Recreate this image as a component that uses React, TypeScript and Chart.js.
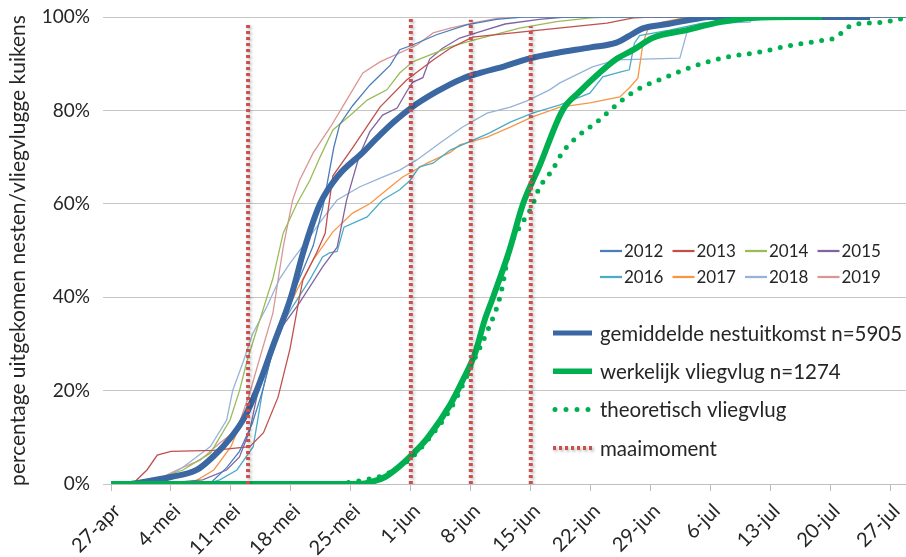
import React, { useEffect, useRef } from "react";
import { Chart, registerables } from "chart.js";

Chart.register(...registerables);

const FONT = "Lato, 'Open Sans', sans-serif";
const TEXT = "#262626";

// x axis: days after 27 April
const tickDays = [0, 7, 14, 21, 28, 35, 42, 49, 56, 63, 70, 77, 84, 91];
const tickLabels = ["27-apr", "4-mei", "11-mei", "18-mei", "25-mei", "1-jun", "8-jun", "15-jun", "22-jun", "29-jun", "6-jul", "13-jul", "20-jul", "27-jul"];
const yTicks = [0, 20, 40, 60, 80, 100];

const yearLabels = ["2012", "2013", "2014", "2015", "2016", "2017", "2018", "2019"];
const yearColors = ["#4A7EBB", "#C0504D", "#9BBB59", "#8064A2", "#4BACC6", "#F79646", "#95B3D7", "#D99694"];

const days2012 = [0, 11.5, 13.5, 15, 16.5, 17.7, 19.5, 22, 23.6, 24.7, 25.2, 26, 26.7, 28.2, 30.2, 32.6, 33.7, 35.2, 38, 41.5, 45, 48, 92.8];
const pct2012 = [0, 0, 3.5, 7, 13, 20, 33, 44, 51, 59, 64, 72, 77, 81, 85.4, 89.7, 93, 94, 96.2, 98.3, 99.5, 100, 100];

const days2013 = [0, 2.5, 4.2, 5.4, 7, 12, 16.2, 17.8, 19.5, 20.9, 22, 22.4, 24, 25, 25.3, 25.9, 28.2, 31.4, 34.5, 37.6, 39.6, 42.2, 50, 57.9, 61, 63, 92.8];
const pct2013 = [0, 0, 3, 6.2, 7, 7.2, 8, 11, 18.6, 29, 40, 43.7, 49.5, 53.7, 58, 66, 72, 80.7, 86.5, 90.8, 93.3, 95.7, 97.2, 98.7, 99.8, 100, 100];

const days2014 = [0, 3, 5.7, 8.4, 11.6, 13.9, 15, 15.9, 18.2, 18.9, 20.1, 21.7, 23.2, 24.4, 25.9, 28.2, 29.9, 32.2, 33.7, 35.2, 39.6, 42.2, 47.7, 52, 56, 58, 92.8];
const pct2014 = [0, 0, 1.3, 3, 6.6, 13.7, 20, 26.5, 40, 44, 53.7, 60, 65, 70, 75.8, 79.4, 82.2, 84.4, 88, 90.4, 93.6, 95, 97.6, 99, 99.8, 100, 100];

const days2015 = [0, 6, 7.7, 10.7, 13.5, 15, 16.2, 17.4, 18.2, 19.7, 22, 24.7, 26.4, 27.5, 29, 30.2, 31.7, 33.4, 34.5, 35.2, 36.4, 37.2, 38.7, 40.7, 43, 46, 50, 53, 92.8];
const pct2015 = [0, 0, 0.4, 0.9, 3, 5.8, 11.5, 22, 26.5, 33, 38.8, 46.5, 50.7, 60.8, 70.4, 75.4, 79, 80.5, 84, 86, 87, 91, 93.3, 95.5, 96.8, 98.5, 99.5, 100, 100];

const days2016 = [0, 11, 12.7, 14.7, 16.6, 17.7, 18.2, 19.4, 21.2, 23.2, 24.7, 25.5, 26.4, 27.2, 29.9, 31.7, 33.7, 34.9, 36, 37.6, 39.6, 44.2, 46.6, 49.2, 52.4, 55.9, 57.4, 59.4, 60.5, 61.1, 61.7, 65.2, 69, 74.2, 75, 92.8];
const pct2016 = [0, 0, 0.9, 3, 8, 20, 23.8, 32.3, 38, 43.7, 48.6, 49.5, 49.8, 55, 57.2, 60.8, 63, 65, 67.9, 68.7, 71.5, 75.2, 77.5, 79.4, 81.2, 83.7, 87.2, 88.2, 88.7, 94.4, 96, 97.2, 98.7, 99.4, 100, 100];

const days2017 = [0, 8, 10, 12, 14, 15.9, 17.2, 18.6, 19.7, 21.7, 23.6, 25.9, 28.2, 30.2, 32.2, 34, 36.9, 39.6, 40.7, 43.9, 46.6, 49.2, 52.4, 55.9, 59.4, 60.6, 61.5, 62.1, 62.7, 64.4, 66.8, 68, 92.8];
const pct2017 = [0, 0, 0.8, 3, 8, 16.5, 22, 28, 33.6, 41.5, 48, 54, 58, 60, 63, 65.7, 68.7, 71, 72.6, 74.3, 76.4, 78.6, 80.7, 81.6, 82.9, 85, 86.9, 94.4, 97.6, 98.9, 99.8, 100, 100];

const days2018 = [0, 4, 6, 8.4, 11.6, 13.5, 14.2, 15.4, 16.5, 18.2, 19.7, 20.9, 23.2, 24.4, 25.2, 26.4, 29, 31.7, 33.7, 35.7, 38.4, 41, 43.9, 46.6, 48.5, 51.2, 52.4, 56.2, 59, 66.4, 67.3, 70.7, 74.6, 75, 92.8];
const pct2018 = [0, 0, 1, 3.6, 8, 13.7, 20, 26, 32, 38, 44, 47.3, 52.9, 56, 58, 60.8, 63.6, 65.7, 67.2, 69.4, 73, 76.4, 79.4, 80.7, 82, 84.4, 85.9, 89.3, 90.8, 91.2, 97.2, 98.7, 98.9, 100, 100];

const days2019 = [0, 4, 6, 7.7, 10.4, 12.7, 14.7, 16.2, 17.4, 18.9, 20.1, 21.2, 22, 23.6, 25.6, 27.5, 29.4, 31.4, 33.7, 35.7, 37.6, 39.6, 43, 46, 92.8];
const pct2019 = [0, 0, 1.5, 3, 5.1, 8.8, 11.6, 19.5, 27.2, 36.6, 50.7, 60.8, 65, 70.9, 76.4, 82.2, 88, 90.4, 92.3, 94, 96.6, 97.6, 99, 100, 100];

const yearDays = [days2012, days2013, days2014, days2015, days2016, days2017, days2018, days2019];
const yearPct = [pct2012, pct2013, pct2014, pct2015, pct2016, pct2017, pct2018, pct2019];

const avgLabel = "gemiddelde nestuitkomst n=5905";
const avgDays = [0, 2, 4, 7, 10, 12, 14, 15.5, 17, 19, 21, 22.5, 24.4, 26.5, 29.4, 31, 33, 35, 38, 41, 43, 46, 49, 52, 56, 59, 61, 62, 65, 68, 70, 88.6];
const avgPct = [0, 0, 0.5, 1.5, 3, 6, 10, 14, 20, 30, 40, 50, 60, 66, 71, 74, 77.5, 80.5, 84, 86.8, 88, 89.5, 91.2, 92.3, 93.5, 94.5, 96.5, 97.5, 98.5, 99.5, 100, 100];

const flightLabel = "werkelijk vliegvlug n=1274";
const flightDays = [0, 29, 30.5, 32, 33.5, 35, 37, 39.6, 41, 42.5, 43.6, 44.6, 46.5, 48.1, 50, 52.7, 54.7, 57, 59, 61, 63.2, 67.2, 71.1, 74.9, 80, 83];
const flightPct = [0, 0, 0.5, 1.5, 3.5, 6, 10, 17, 22, 28, 35, 40, 50, 60, 68, 80, 84, 88, 91, 93, 95.5, 97.2, 98.9, 99.8, 100, 100];

const theoLabel = "theoretisch vliegvlug";
const theoDays = [26.5, 28, 30, 32, 33.5, 35, 37, 39.6, 41, 42.5, 44, 45.4, 46.6, 47.7, 49.1, 50, 51.5, 52.7, 54.4, 56.7, 59.4, 61.4, 64.9, 68.4, 71.9, 75.7, 79.6, 83.1, 84.7, 85.6, 86.6, 90.1, 92.8];
const theoPct = [0, 0.4, 1, 2, 3.5, 5.5, 9.5, 16, 21, 27, 33, 40, 50.7, 55, 59.3, 63.4, 67.2, 71, 74.3, 77.5, 81.8, 84.4, 87.2, 89.7, 91.4, 92.5, 94, 95, 95.7, 97.2, 98.3, 98.9, 99.8];

const mowLabel = "maaimoment";
const mowDays = [16, 35, 42, 49];
const mowTop = [98.5, 100, 99.4, 98];

const yTitle = "percentage uitgekomen nesten/vliegvlugge kuikens";

const toPoints = (xs: number[], ys: number[]) => xs.map((x, i) => ({ x, y: ys[i] }));

const mowPoints = () => {
  const pts: { x: number; y: number | null }[] = [];
  mowDays.forEach((d, i) => {
    pts.push({ x: d, y: 0 });
    pts.push({ x: d, y: mowTop[i] });
    pts.push({ x: d, y: null });
  });
  return pts;
};

const shadowPlugin = {
  id: "mowShadow",
  beforeDatasetDraw(chart: any, args: any) {
    const ds = chart.data.datasets[args.index];
    if (ds.shadow) {
      const ctx = chart.ctx;
      ctx.save();
      ctx.shadowColor = "rgba(0,0,0,0.3)";
      ctx.shadowBlur = 3;
      ctx.shadowOffsetX = 1.5;
      ctx.shadowOffsetY = 1.5;
    }
  },
  afterDatasetDraw(chart: any, args: any) {
    const ds = chart.data.datasets[args.index];
    if (ds.shadow) chart.ctx.restore();
  },
};

const legendPlugin = {
  id: "customLegend",
  afterDraw(chart: any) {
    const ctx = chart.ctx;
    ctx.save();
    ctx.textBaseline = "middle";
    ctx.textAlign = "left";
    ctx.fillStyle = TEXT;
    chart.data.datasets.forEach((ds: any) => {
      if (ds.legendGroup === "years") {
        const k = ds.legendIndex;
        const col = k % 4;
        const row = Math.floor(k / 4);
        const x0 = 600 + col * 72.5;
        const y = 251 + row * 26;
        ctx.save();
        ctx.strokeStyle = ds.borderColor;
        ctx.lineWidth = 2.25;
        ctx.beginPath();
        ctx.moveTo(x0, y);
        ctx.lineTo(x0 + 22, y);
        ctx.stroke();
        ctx.restore();
        ctx.font = `17px ${FONT}`;
        ctx.fillText(ds.label, x0 + 24, y + 1);
      } else if (ds.legendGroup === "main") {
        const k = ds.legendIndex;
        const y = 333 + k * 38.3;
        ctx.save();
        ctx.strokeStyle = ds.borderColor;
        ctx.lineWidth = ds.legendWidth;
        ctx.lineCap = ds.borderCapStyle || "butt";
        ctx.setLineDash(ds.legendDash || []);
        if (ds.shadow) {
          ctx.shadowColor = "rgba(0,0,0,0.3)";
          ctx.shadowBlur = 3;
          ctx.shadowOffsetX = 1.5;
          ctx.shadowOffsetY = 1.5;
        }
        ctx.beginPath();
        ctx.moveTo(ds.legendStart || 553, y);
        ctx.lineTo(592, y);
        ctx.stroke();
        ctx.restore();
        ctx.font = `20.5px ${FONT}`;
        ctx.fillText(ds.label, 600, y + 1);
      }
    });
    ctx.restore();
  },
};

export default function App() {
  const ref = useRef<HTMLCanvasElement | null>(null);

  useEffect(() => {
    if (!ref.current) return;
    const yearSets = yearLabels.map((label, i) => ({
      label,
      data: toPoints(yearDays[i], yearPct[i]),
      borderColor: yearColors[i],
      borderWidth: 1.3,
      pointRadius: 0,
      tension: 0,
      order: 4,
      legendGroup: "years",
      legendIndex: i,
    }));

    const chart = new Chart(ref.current, {
      type: "line",
      data: {
        datasets: [
          {
            label: avgLabel,
            data: toPoints(avgDays, avgPct),
            borderColor: "#3B67A2",
            borderWidth: 6,
            pointRadius: 0,
            cubicInterpolationMode: "monotone",
            order: 3,
            legendGroup: "main",
            legendIndex: 0,
            legendWidth: 5,
          },
          {
            label: flightLabel,
            data: toPoints(flightDays, flightPct),
            borderColor: "#00B050",
            borderWidth: 6,
            pointRadius: 0,
            cubicInterpolationMode: "monotone",
            order: 2,
            legendGroup: "main",
            legendIndex: 1,
            legendWidth: 5.5,
          },
          {
            label: theoLabel,
            data: toPoints(theoDays, theoPct),
            borderColor: "#00B050",
            borderWidth: 5,
            borderDash: [0, 10.5],
            borderCapStyle: "round",
            pointRadius: 0,
            cubicInterpolationMode: "monotone",
            order: 1,
            legendGroup: "main",
            legendIndex: 2,
            legendWidth: 5,
            legendDash: [0, 11],
            legendStart: 555,
          },
          {
            label: mowLabel,
            data: mowPoints(),
            borderColor: "#C9504F",
            borderWidth: 4,
            borderDash: [3, 3],
            pointRadius: 0,
            spanGaps: false,
            order: 0,
            shadow: true,
            legendGroup: "main",
            legendIndex: 3,
            legendWidth: 4,
            legendDash: [3, 3],
          },
          ...yearSets,
        ] as any,
      },
      options: {
        animation: false,
        responsive: false,
        maintainAspectRatio: false,
        layout: { padding: { top: 17, right: 0, left: 0, bottom: 0 } },
        plugins: {
          legend: { display: false },
          tooltip: { enabled: false },
        },
        scales: {
          x: {
            type: "linear",
            min: 0,
            max: 92.8,
            afterBuildTicks: (scale: any) => {
              scale.ticks = tickDays.map((v) => ({ value: v }));
            },
            afterFit: (scale: any) => {
              scale.height = 73;
              scale.paddingLeft = 0;
              scale.paddingRight = 0;
            },
            border: { display: true, color: "#BFBFBF", width: 1 },
            grid: { display: true, drawOnChartArea: false, drawTicks: true, tickLength: 7, color: "#BFBFBF" },
            ticks: {
              autoSkip: false,
              minRotation: 45,
              maxRotation: 45,
              padding: 8,
              labelOffset: 6,
              color: TEXT,
              font: { family: FONT, size: 20 },
              callback: (_v: any, i: number) => tickLabels[i],
            },
          },
          y: {
            min: 0,
            max: 100,
            afterBuildTicks: (scale: any) => {
              scale.ticks = yTicks.map((v) => ({ value: v }));
            },
            afterFit: (scale: any) => {
              scale.width = 111;
              scale.paddingTop = 0;
              scale.paddingBottom = 0;
            },
            border: { display: false },
            grid: { color: "#C6C6C6", lineWidth: 1, drawTicks: true, tickLength: 8 },
            ticks: {
              padding: 13,
              color: TEXT,
              font: { family: FONT, size: 19 },
              callback: (v: any) => `${v}%`,
            },
            title: {
              display: true,
              text: yTitle,
              color: TEXT,
              font: { family: FONT, size: 21, weight: "normal" },
              padding: { top: 6, bottom: 0 },
            },
          },
        },
      } as any,
      plugins: [shadowPlugin, legendPlugin],
    });
    return () => chart.destroy();
  }, []);

  return (
    <div style={{ position: "absolute", left: 0, top: 0, width: 906, height: 557, background: "#fff" }}>
      <canvas ref={ref} width={906} height={557} style={{ display: "block" }} />
    </div>
  );
}
